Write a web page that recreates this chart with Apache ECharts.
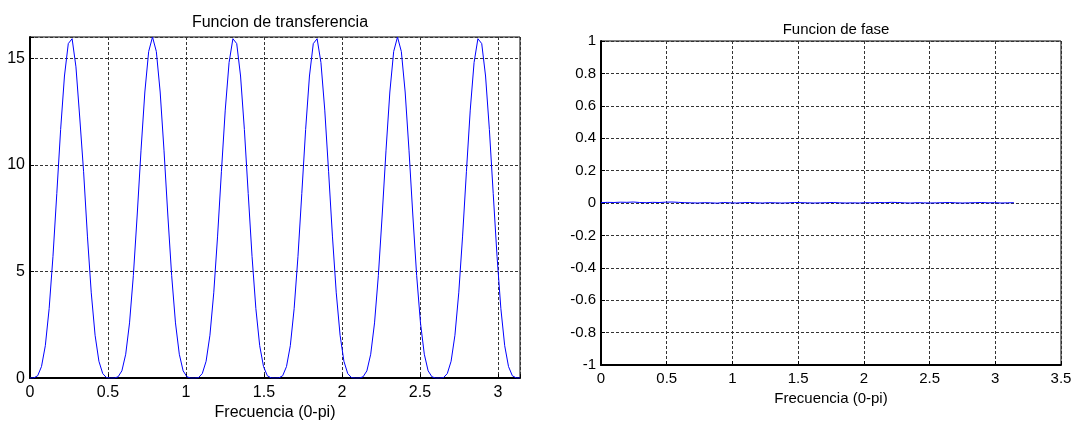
<!DOCTYPE html>
<html>
<head>
<meta charset="utf-8">
<script src="https://cdn.jsdelivr.net/npm/echarts@6/dist/echarts.min.js"></script>
<style>
html,body{margin:0;padding:0;background:#fff;}
#c{width:1077px;height:426px;}
</style>
</head>
<body>
<div id="c"></div>
<script>
// ---- data ----
const titles = ['Funcion de transferencia', 'Funcion de fase'];
const xLabel = 'Frecuencia (0-pi)';
const freqMax = 3.1416;
// |H(w)| sampled over 0..pi (129 samples)
const magnitude = [
  0, 0.01, 0.11, 0.54, 1.52, 3.26, 5.71, 8.66, 11.66, 14.17, 15.69, 15.92, 14.6, 12.2, 9.68, 6.66, 4.00, 2.01, 0.79, 0.21, 0.02, 0.00,
  0.00, 0.06, 0.34, 1.12, 2.59, 4.82, 7.65, 10.69, 13.42, 15.32, 16.00, 15.32, 13.42, 10.69, 7.65, 4.82, 2.59, 1.12, 0.34, 0.06, 0.00,
  0.00, 0.02, 0.21, 0.79, 2.01, 4.00, 6.66, 9.68, 12.57, 14.80, 15.92, 15.69, 14.17, 11.66, 8.66, 5.71, 3.26, 1.52, 0.54, 0.11, 0.01, 0,
  0.01, 0.11, 0.54, 1.52, 3.26, 5.71, 8.66, 11.66, 14.17, 15.69, 15.92, 14.80, 12.57, 9.68, 6.66, 4.00, 2.01, 0.79, 0.21, 0.02, 0.00,
  0.00, 0.06, 0.34, 1.12, 2.59, 4.82, 7.65, 10.69, 13.42, 15.32, 16.00, 15.32, 13.42, 10.69, 7.65, 4.82, 2.59, 1.12, 0.34, 0.06, 0.00,
  0.00, 0.02, 0.21, 0.79, 2.01, 4.00, 6.66, 9.68, 12.57, 14.80, 15.92, 15.69, 14.17, 11.66, 8.66, 5.71, 3.26, 1.52, 0.54, 0.11, 0.01, 0
];
// phase sampled over 0..pi (65 samples)
const phase = [
  0.002, 0.004, 0.003, 0.005, 0.004, 0.006, 0.003, 0.002, 0.004, 0.003, 0.005, 0.006, 0.004, 0.002, 0.001, 0.000,
  0.002, 0.001, -0.001, 0.003, 0.001, 0.000, 0.002, 0.003, 0.001, 0.000, 0.002, 0.001, 0.000, 0.001, 0.003, 0.002,
  0.001, 0.000, 0.001, 0.002, 0.003, 0.001, 0.000, 0.001, 0.000, 0.002, 0.001, 0.003, 0.002, 0.004, 0.003, 0.001,
  0.000, 0.002, 0.001, 0.000, 0.001, 0.002, 0.003, 0.001, 0.000, 0.001, 0.002, 0.003, 0.001, 0.002, 0.000, 0.001, 0.002
];
const leftTicks = { xInterval: 0.5, yMin: 0, yMax: 16, yInterval: 5 };
const rightTicks = { xMin: 0, xMax: 3.5, xInterval: 0.5, yMin: -1, yMax: 1, yInterval: 0.2 };

// ---- build ----
function pairs(vals) {
  const n = vals.length;
  return vals.map((v, i) => [i * freqMax / (n - 1), v]);
}
const FONT = "'Liberation Sans', Arial, sans-serif";
const gridLine = { show: true, lineStyle: { color: '#333', type: [3, 2], width: 1 } };
function onStep(step) {
  return v => {
    const r = Math.round(v / step) * step;
    return Math.abs(v - r) < 1e-6 ? String(+r.toFixed(4)) : '';
  };
}
const chart = echarts.init(document.getElementById('c'), null, { renderer: 'canvas' });
chart.setOption({
  backgroundColor: '#fff',
  animation: false,
  textStyle: { fontFamily: FONT },
  title: [
    { text: titles[0], left: 275, top: 10, textAlign: 'center',
      textStyle: { fontSize: 16, fontWeight: 'normal', color: '#000', fontFamily: FONT } },
    { text: titles[1], left: 831, top: 17, textAlign: 'center',
      textStyle: { fontSize: 15, fontWeight: 'normal', color: '#000', fontFamily: FONT } }
  ],
  grid: [
    { left: 30, right: 557, top: 37, bottom: 44, show: true, borderColor: '#000', borderWidth: 1, backgroundColor: '#fff' },
    { left: 601, right: 16, top: 41, bottom: 61, show: true, borderColor: '#000', borderWidth: 1, backgroundColor: '#fff' }
  ],
  xAxis: [
    { type: 'value', gridIndex: 0, min: 0, max: freqMax, interval: leftTicks.xInterval,
      name: xLabel, nameLocation: 'middle', nameGap: 25,
      nameTextStyle: { fontSize: 16, color: '#000', fontFamily: FONT },
      axisLine: { show: true, onZero: false, lineStyle: { color: '#000', width: 2 } },
      axisTick: { show: true, inside: true, length: 4, lineStyle: { color: '#000' } },
      axisLabel: { fontSize: 16, color: '#000', margin: 6, formatter: onStep(leftTicks.xInterval), fontFamily: FONT },
      splitLine: gridLine },
    { type: 'value', gridIndex: 1, min: rightTicks.xMin, max: rightTicks.xMax, interval: rightTicks.xInterval,
      name: xLabel, nameLocation: 'middle', nameGap: 23,
      nameTextStyle: { fontSize: 15, color: '#000', fontFamily: FONT },
      axisLine: { show: true, onZero: false, lineStyle: { color: '#000', width: 2 } },
      axisTick: { show: true, inside: true, length: 4, lineStyle: { color: '#000' } },
      axisLabel: { fontSize: 15, color: '#000', margin: 6, fontFamily: FONT },
      splitLine: gridLine }
  ],
  yAxis: [
    { type: 'value', gridIndex: 0, min: leftTicks.yMin, max: leftTicks.yMax, interval: leftTicks.yInterval,
      axisLine: { show: true, onZero: false, lineStyle: { color: '#000', width: 2 } },
      axisTick: { show: true, inside: true, length: 4, lineStyle: { color: '#000' } },
      axisLabel: { fontSize: 16, color: '#000', margin: 5, formatter: onStep(leftTicks.yInterval), fontFamily: FONT },
      splitLine: gridLine },
    { type: 'value', gridIndex: 1, min: rightTicks.yMin, max: rightTicks.yMax, interval: rightTicks.yInterval,
      axisLine: { show: true, onZero: false, lineStyle: { color: '#000', width: 2 } },
      axisTick: { show: true, inside: true, length: 4, lineStyle: { color: '#000' } },
      axisLabel: { fontSize: 15, color: '#000', margin: 5, formatter: onStep(rightTicks.yInterval), fontFamily: FONT },
      splitLine: gridLine }
  ],
  series: [
    { type: 'line', xAxisIndex: 0, yAxisIndex: 0, data: pairs(magnitude), showSymbol: false, symbol: 'none',
      lineStyle: { color: '#0000ff', width: 1 }, z: 5 },
    { type: 'line', xAxisIndex: 1, yAxisIndex: 1, data: pairs(phase), showSymbol: false, symbol: 'none',
      lineStyle: { color: '#0000ff', width: 1 }, z: 5 }
  ]
});
</script>
</body>
</html>
